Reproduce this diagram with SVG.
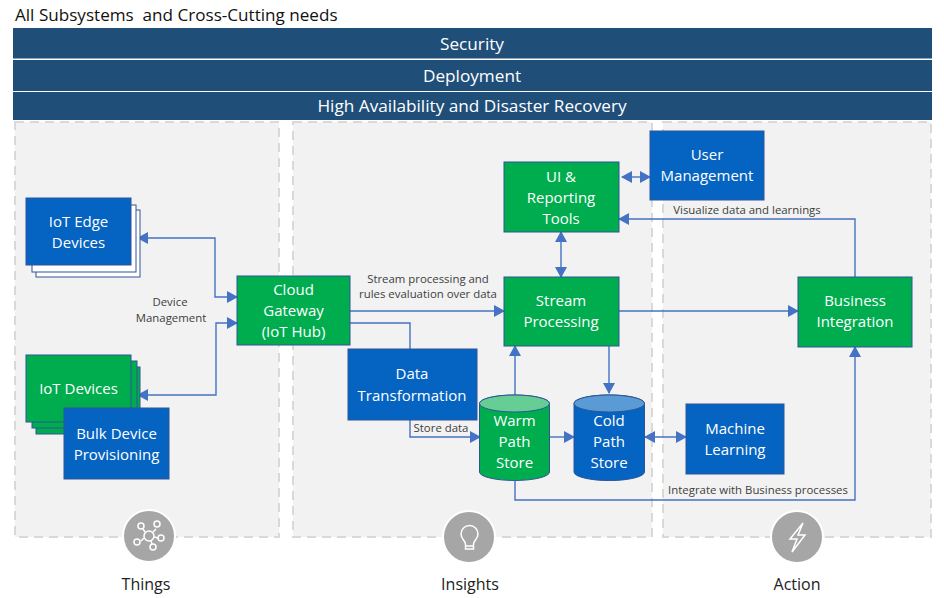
<svg xmlns="http://www.w3.org/2000/svg" width="944" height="598" viewBox="0 0 944 598">
<style>
text{font-family:"Open Sans","Noto Sans","Liberation Sans",sans-serif;text-anchor:middle}
.band{fill:#1f4e79}
.bandt{fill:#fff;font-size:17.2px}
.panel{fill:#f2f2f2;stroke:#d9d9d9;stroke-width:2;stroke-dasharray:9 6}
.g{fill:#00ad4e;stroke:#2f5597;stroke-width:1}
.b{fill:#0563c1;stroke:#2f5597;stroke-width:1}
.w{fill:#fff;stroke:#2f5597;stroke-width:1}
.t{fill:#fff;font-size:15px}
.l{fill:#404040;font-size:11.4px}
.c{fill:none;stroke:#4472c4;stroke-width:1.4}
.ic{fill:#a6a6a6;stroke:#fff;stroke-width:2}
.iw{fill:none;stroke:#fff;stroke-width:1.5}
.cap{fill:#222;font-size:16px}
</style>
<defs>
<marker id="a" markerUnits="userSpaceOnUse" markerWidth="11" markerHeight="12" refX="10" refY="6" orient="auto-start-reverse"><path d="M0 0L11 6L0 12Z" fill="#4472c4"/></marker>
</defs>
<rect width="944" height="598" fill="#fff"/>
<text x="15" y="21" style="text-anchor:start;font-size:17.1px;fill:#111;white-space:pre">All Subsystems  and Cross-Cutting needs</text>
<g id="bands">
<rect class="band" x="13" y="28" width="919" height="30.500"/>
<rect class="band" x="13" y="60" width="919" height="31"/>
<rect class="band" x="13" y="92" width="919" height="28"/>
<text class="bandt" x="472" y="50">Security</text>
<text class="bandt" x="472" y="82">Deployment</text>
<text class="bandt" x="472" y="112">High Availability and Disaster Recovery</text>
</g>
<g id="panels">
<rect class="panel" x="15" y="122" width="264" height="415"/>
<rect class="panel" x="293" y="122" width="359" height="415"/>
<rect class="panel" x="663" y="122" width="268" height="415"/>
</g>
<g id="connectors">
<path class="c" d="M237 297H215V238H138" marker-end="url(#a)" marker-start="url(#a)"/>
<path class="c" d="M237 323H216V395H138" marker-end="url(#a)" marker-start="url(#a)"/>
<path class="c" d="M350 311H504" marker-end="url(#a)"/>
<path class="c" d="M350 323H410V349"/>
<path class="c" d="M410 420V437H480" marker-end="url(#a)"/>
<path class="c" d="M619 311H798" marker-end="url(#a)"/>
<path class="c" d="M561 232V277" marker-end="url(#a)" marker-start="url(#a)"/>
<path class="c" d="M622 177H650" marker-end="url(#a)" marker-start="url(#a)"/>
<path class="c" d="M855 277V219H619" marker-end="url(#a)"/>
<path class="c" d="M515 395V346" marker-end="url(#a)"/>
<path class="c" d="M609 346V393" marker-end="url(#a)"/>
<path class="c" d="M550 437H574" marker-end="url(#a)"/>
<path class="c" d="M645 437H686" marker-end="url(#a)" marker-start="url(#a)"/>
<path class="c" d="M515 481V500H855V347" marker-end="url(#a)"/>
</g>
<g id="edge-devices">
<rect class="w" x="36" y="210" width="104" height="67"/>
<rect class="w" x="32" y="205" width="104" height="67"/>
<rect class="b" x="26" y="198" width="105" height="67"/>
<text class="t" x="78.500" y="227">IoT Edge</text><text class="t" x="78.500" y="248">Devices</text>
</g>
<g id="iot-devices">
<rect class="g" x="36" y="367" width="104" height="67"/>
<rect class="g" x="32" y="361" width="105" height="67"/>
<rect class="g" x="26" y="355" width="105" height="67"/>
<text class="t" x="78.500" y="394">IoT Devices</text>
</g>
<g id="bulk">
<rect class="b" x="64" y="408" width="105" height="71"/>
<text class="t" x="116.500" y="439">Bulk Device</text><text class="t" x="116.500" y="460">Provisioning</text>
</g>
<g id="gateway">
<rect class="g" x="237" y="276" width="113" height="69"/>
<text class="t" x="293.500" y="295">Cloud</text><text class="t" x="293.500" y="316">Gateway</text><text class="t" x="293.500" y="337">(IoT Hub)</text>
</g>
<g id="ui">
<rect class="g" x="504" y="162" width="115" height="70"/>
<text class="t" x="561" y="182">UI &amp;</text><text class="t" x="561" y="203">Reporting</text><text class="t" x="561" y="224">Tools</text>
</g>
<g id="stream">
<rect class="g" x="504" y="277" width="115" height="69"/>
<text class="t" x="561" y="306">Stream</text><text class="t" x="561" y="327">Processing</text>
</g>
<g id="user">
<rect class="b" x="650" y="131" width="114" height="69"/>
<text class="t" x="707" y="160">User</text><text class="t" x="707" y="181">Management</text>
</g>
<g id="business">
<rect class="g" x="798" y="277" width="114" height="70"/>
<text class="t" x="855" y="306">Business</text><text class="t" x="855" y="327">Integration</text>
</g>
<g id="transform">
<rect class="b" x="348" y="349" width="129" height="71"/>
<text class="t" x="412" y="379">Data</text><text class="t" x="412" y="401">Transformation</text>
</g>
<g id="warm">
<path d="M479.500 403.500A35 8.500 0 0 1 549.500 403.500V472A35 8.500 0 0 1 479.500 472Z" fill="#00ad4e" stroke="#2f5597"/>
<ellipse cx="514.500" cy="403.500" rx="35" ry="8.500" fill="#66ce95" stroke="#2f5597"/>
<text class="t" x="514.500" y="426">Warm</text><text class="t" x="514.500" y="447">Path</text><text class="t" x="514.500" y="468">Store</text>
</g>
<g id="cold">
<path d="M574 403.500A35 8.500 0 0 1 644.500 403.500V472A35 8.500 0 0 1 574 472Z" fill="#0563c1" stroke="#2f5597"/>
<ellipse cx="609.250" cy="403.500" rx="35.250" ry="8.500" fill="#5b9bd5" stroke="#2f5597"/>
<text class="t" x="609" y="426">Cold</text><text class="t" x="609" y="447">Path</text><text class="t" x="609" y="468">Store</text>
</g>
<g id="ml">
<rect class="b" x="686" y="404" width="98" height="70"/>
<text class="t" x="735" y="434">Machine</text><text class="t" x="735" y="455">Learning</text>
</g>
<g id="labels">
<text class="l" x="170" y="306">Device</text><text class="l" x="171" y="322">Management</text>
<text class="l" x="428" y="283">Stream processing and</text><text class="l" x="428" y="298">rules evaluation over data</text>
<text class="l" x="441" y="432">Store data</text>
<text class="l" x="747" y="214">Visualize data and learnings</text>
<text class="l" x="758" y="494">Integrate with Business processes</text>
</g>
<g id="things">
<circle class="ic" cx="149" cy="536" r="26"/>
<circle class="iw" cx="149" cy="536" r="5"/>
<g class="iw"><path d="M145 532L143 529M153 532L156 529M154 537L158 538M151 541L152 544M144 538L141 541"/><circle cx="141" cy="526" r="3"/><circle cx="157" cy="524" r="3"/><circle cx="161" cy="538" r="3"/><circle cx="153" cy="547" r="3"/><circle cx="137" cy="542" r="3"/></g>
<text class="cap" x="146" y="590">Things</text>
</g>
<g id="insights">
<circle class="ic" cx="469" cy="537" r="26"/>
<path class="iw" d="M465.500 549V544C465.500 541 461 539 461 534A8.500 8.500 0 0 1 478 534C478 539 473.500 541 473.500 544V549ZM465.500 546H473.500"/>
<text class="cap" x="470" y="590">Insights</text>
</g>
<g id="action">
<circle class="ic" cx="797" cy="537" r="26"/>
<path class="iw" d="M803 523L790 539H797L792 552L805 535H798Z"/>
<text class="cap" x="797" y="590">Action</text>
</g>
</svg>
